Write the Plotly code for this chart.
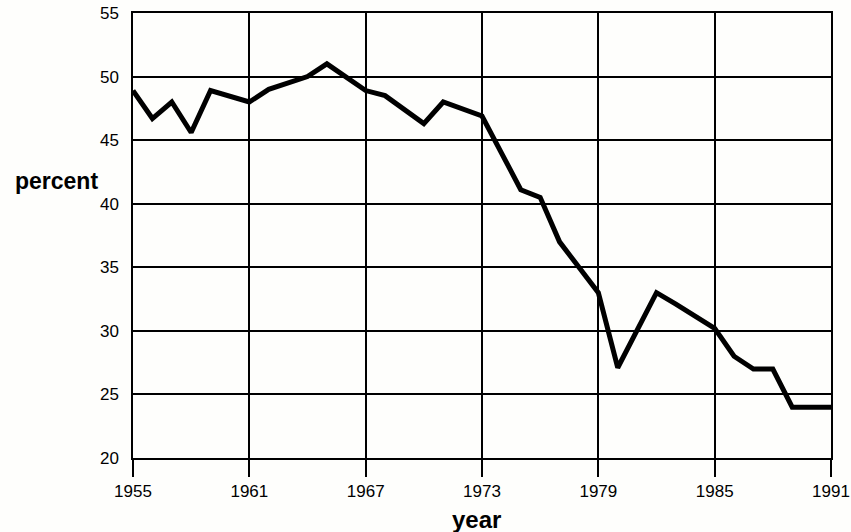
import plotly.graph_objects as go

years = list(range(1955, 1992))
percent = [48.9, 46.7, 48.0, 45.6, 48.9, 48.4, 48.0, 49.0, 49.5, 50.0,
           51.0, 50.0, 48.9, 48.5, 47.4, 46.3, 48.0, 47.5, 46.9, 44.0,
           41.1, 40.5, 37.0, 35.0, 33.0, 27.1, 30.0, 33.0, 32.1, 31.1,
           30.2, 28.0, 27.0, 27.0, 24.0, 24.0, 24.0]
x_ticks = [1955, 1961, 1967, 1973, 1979, 1985, 1991]
y_ticks = [20, 25, 30, 35, 40, 45, 50, 55]

W, H = 851, 532
l, r, t, b = 133, 20, 13, 74
pw, ph = W - l - r, H - t - b
FAM = "Liberation Sans, Arial, sans-serif"

fig = go.Figure()
fig.add_trace(go.Scatter(x=years, y=percent, mode="lines",
                         line=dict(color="black", width=5), hoverinfo="skip"))

fig.update_layout(
    width=W, height=H,
    margin=dict(l=l, r=r, t=t, b=b),
    paper_bgcolor="#fefefc", plot_bgcolor="#fefefc",
    showlegend=False, font=dict(family=FAM, size=17, color="black"),
    xaxis=dict(range=[1955, 1991], tickvals=x_ticks, showgrid=True,
               gridcolor="black", gridwidth=1.5, zeroline=False, automargin=False,
               showline=True, linecolor="black", linewidth=1.5, mirror=True,
               ticks="outside", ticklen=17, tickwidth=1.5, tickcolor="black"),
    yaxis=dict(range=[20, 55], tickvals=y_ticks, showgrid=True,
               gridcolor="black", gridwidth=1.5, zeroline=False, automargin=False,
               showline=True, linecolor="black", linewidth=1.5, mirror=True,
               ticks="outside", ticklen=9, tickcolor="rgba(0,0,0,0)"),
)

def px2paper(px, py):
    return (px - l) / pw, 1 - (py - t) / ph

ax1, ay1 = px2paper(56, 181)
ax2, ay2 = px2paper(476, 519)
fig.update_layout(annotations=[
    dict(text="<b>percent</b>", x=ax1, y=ay1, xref="paper", yref="paper",
         showarrow=False, xanchor="center", yanchor="middle",
         font=dict(size=23, family=FAM, color="black")),
    dict(text="<b>year</b>", x=ax2, y=ay2, xref="paper", yref="paper",
         showarrow=False, xanchor="center", yanchor="middle",
         font=dict(size=24, family=FAM, color="black")),
])
fig.write_html("out.html", config={"displayModeBar": False},
               post_script="document.body.style.margin='0';document.body.style.background='#fefefc';")
